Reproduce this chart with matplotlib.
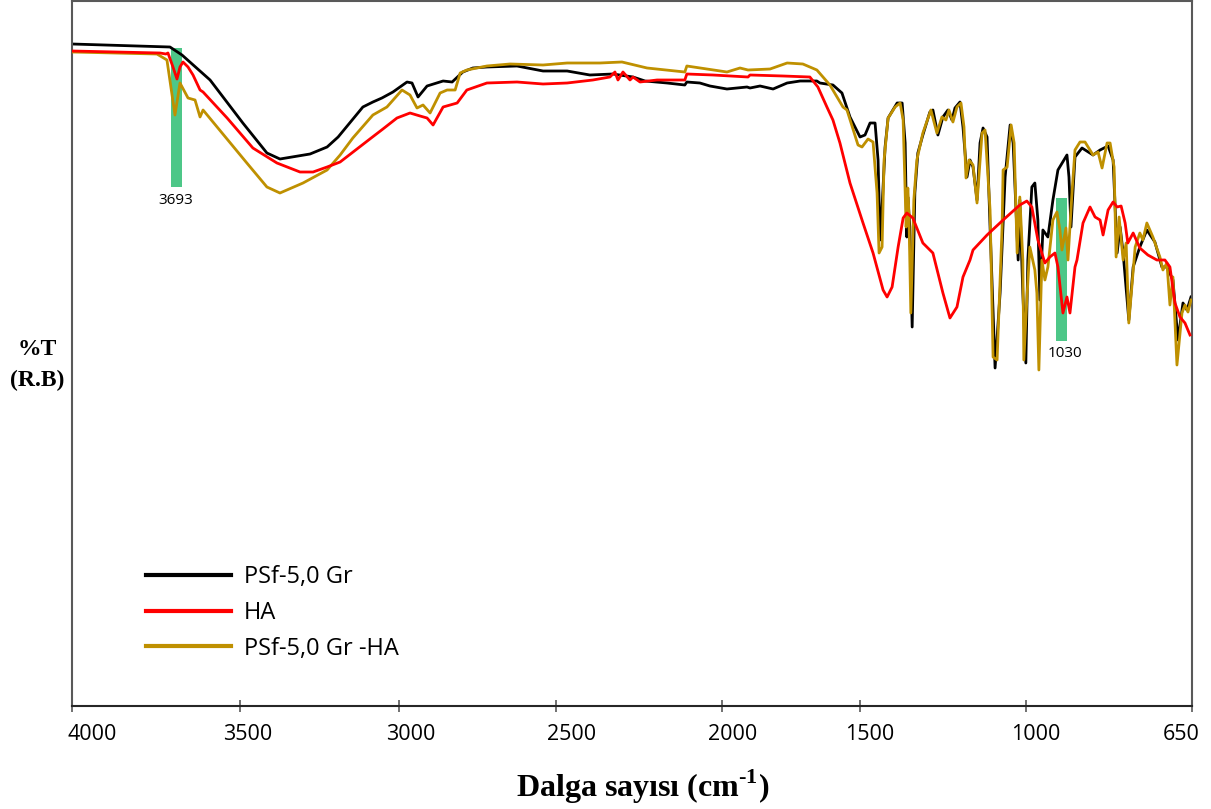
import matplotlib
matplotlib.use("Agg")
import matplotlib.pyplot as plt

# FTIR spectra (wavenumber in cm-1, %T in relative units)
black_wn = [4000, 3707, 3671, 3587, 3489, 3417, 3378, 3288, 3237, 3204, 3130, 3100, 3073, 3040,
            2998, 2983, 2965, 2938, 2890, 2863, 2831, 2801, 2759, 2669, 2591, 2519, 2451, 2382,
            2322, 2286, 2220, 2167, 2161, 2122, 2092, 2041, 1981, 1972, 1942, 1903, 1861, 1822,
            1772, 1763, 1724, 1697, 1673, 1643, 1628, 1613, 1598, 1589, 1583, 1577, 1568, 1559,
            1532, 1517, 1508, 1503, 1500, 1494, 1487, 1479, 1470, 1455, 1434, 1425, 1410, 1395,
            1380, 1368, 1359, 1344, 1335, 1323, 1314, 1305, 1293, 1284, 1275, 1263, 1254, 1239,
            1224, 1209, 1194, 1185, 1170, 1165, 1156, 1147, 1141, 1129, 1120, 1111, 1105, 1096,
            1081, 1066, 1051, 1024, 1018, 1012, 1000, 979, 946, 925, 901, 886, 874, 865, 856,
            839, 826, 806, 785, 761, 740, 725, 707, 692, 677, 665, 653]
black_t = [66.2, 65.9, 65.1, 62.6, 58.3, 55.3, 54.7, 55.2, 55.9, 56.9, 59.9, 60.4, 60.8, 61.4,
           62.4, 62.3, 60.9, 62.0, 62.5, 62.4, 63.4, 63.8, 63.9, 64.0, 63.5, 63.5, 63.1, 63.2,
           62.9, 62.5, 62.3, 62.1, 62.4, 62.3, 62.0, 61.7, 61.9, 61.8, 62.0, 61.7, 62.3, 62.5,
           62.5, 62.3, 62.1, 61.3, 58.9, 56.9, 57.1, 58.3, 58.3, 54.6, 46.6, 49.9, 55.9, 58.8,
           60.3, 60.3, 56.3, 46.9, 50.9, 47.9, 37.9, 51.3, 55.3, 57.1, 59.4, 59.6, 57.1, 58.9,
           59.6, 58.6, 59.8, 60.4, 57.9, 52.9, 54.6, 53.9, 50.6, 56.3, 57.8, 56.9, 47.9, 33.8,
           41.3, 52.9, 58.1, 56.3, 44.6, 50.6, 41.3, 34.3, 44.6, 51.9, 52.3, 48.6, 40.6, 47.6,
           46.9, 50.6, 53.6, 55.1, 52.9, 47.9, 54.9, 55.8, 55.1, 55.6, 56.0, 54.6, 45.3, 47.9, 45.3,
           38.6, 43.9, 45.9, 47.6, 46.4, 43.9, 43.9, 42.6, 36.6, 40.3, 39.6, 40.9]

ha_wn = [4000, 3737, 3719, 3713, 3698, 3686, 3677, 3668, 3653, 3638, 3617, 3608, 3536, 3459,
         3387, 3318, 3279, 3237, 3198, 3109, 3070, 3028, 2989, 2959, 2938, 2920, 2890, 2848,
         2819, 2759, 2669, 2591, 2519, 2442, 2391, 2376, 2367, 2352, 2331, 2322, 2301, 2250,
         2167, 2161, 2083, 1978, 1972, 1873, 1793, 1769, 1742, 1724, 1703, 1673, 1634, 1604,
         1574, 1562, 1547, 1529, 1514, 1503, 1485, 1455, 1425, 1395, 1374, 1353, 1335, 1314,
         1305, 1263, 1215, 1165, 1144, 1129, 1111, 1090, 1075, 1060, 1051, 1036, 1024, 1015,
         1000, 994, 976, 955, 940, 925, 916, 901, 886, 874, 862, 850, 842, 826, 806, 782, 755,
         731, 716, 701, 686, 671, 656]
ha_t = [65.5, 65.3, 65.2, 65.3, 63.9, 62.7, 63.9, 64.4, 63.9, 63.1, 61.6, 61.4, 58.8, 55.8,
        54.3, 53.4, 53.4, 53.9, 54.4, 56.7, 57.7, 58.8, 59.3, 59.0, 58.8, 58.1, 59.9, 60.3,
        61.6, 62.3, 62.4, 62.2, 62.3, 62.6, 62.9, 63.4, 62.6, 63.4, 62.6, 62.9, 62.4, 62.6,
        62.6, 63.2, 63.1, 62.9, 63.1, 63.0, 62.9, 61.9, 59.9, 58.6, 56.3, 52.3, 48.3, 45.3,
        41.6, 40.9, 41.9, 45.9, 48.8, 49.3, 48.8, 46.3, 45.3, 41.3, 38.8, 39.9, 42.9, 44.6,
        45.6, 47.1, 48.6, 50.1, 50.5, 49.9, 46.6, 44.3, 44.9, 45.3, 43.9, 39.3, 40.9, 39.3,
        43.9, 44.6, 48.3, 49.9, 48.9, 48.6, 47.1, 49.6, 50.4, 49.9, 50.0, 48.3, 46.3, 47.3,
        45.8, 45.1, 44.6, 44.6, 43.9, 40.3, 38.9, 38.3, 37.1]

mix_wn = [4000, 3746, 3716, 3692, 3677, 3653, 3632, 3617, 3608, 3566, 3477, 3417, 3378, 3309,
          3237, 3198, 3160, 3100, 3058, 3013, 2989, 2968, 2950, 2929, 2899, 2878, 2854, 2839,
          2819, 2759, 2690, 2591, 2519, 2421, 2355, 2280, 2167, 2161, 2101, 2041, 2002, 1978,
          1912, 1861, 1814, 1772, 1733, 1694, 1682, 1649, 1637, 1619, 1604, 1592, 1586, 1577,
          1571, 1559, 1538, 1523, 1514, 1505, 1500, 1497, 1491, 1482, 1473, 1455, 1431, 1413,
          1398, 1386, 1377, 1365, 1353, 1341, 1332, 1326, 1317, 1305, 1293, 1278, 1269, 1254,
          1245, 1233, 1218, 1215, 1203, 1191, 1182, 1173, 1165, 1156, 1153, 1144, 1135, 1120,
          1114, 1108, 1099, 1090, 1081, 1066, 1054, 1045, 1039, 1027, 1021, 1009, 1000, 985,
          970, 946, 931, 919, 904, 895, 883, 877, 868, 856, 847, 839, 820, 806, 797, 785, 767,
          746, 737, 725, 716, 707, 695, 680, 671, 662, 653]
mix_t = [65.4, 65.2, 64.6, 59.1, 62.3, 60.8, 60.6, 58.9, 59.6, 57.9, 54.3, 51.9, 51.3, 52.3,
         53.6, 55.1, 56.8, 59.1, 59.9, 61.6, 61.1, 59.8, 60.1, 59.3, 61.3, 61.6, 61.6, 63.3,
         63.6, 64.0, 64.2, 64.1, 64.3, 64.3, 64.4, 63.8, 63.4, 64.0, 63.7, 63.4, 63.8, 63.6,
         63.7, 64.3, 64.2, 63.6, 62.1, 59.9, 59.6, 56.1, 55.9, 56.7, 56.4, 51.3, 45.3, 45.9,
         54.6, 58.8, 59.9, 60.3, 58.6, 47.9, 51.8, 49.6, 39.3, 50.6, 54.6, 57.3, 59.6, 57.3,
         58.9, 58.6, 59.6, 58.4, 59.9, 60.3, 57.9, 52.8, 54.6, 54.1, 50.3, 57.3, 57.6, 49.6,
         34.9, 34.6, 47.9, 53.6, 53.9, 58.1, 56.3, 45.3, 50.9, 44.6, 34.6, 40.6, 45.9, 43.6,
         41.3, 33.6, 44.6, 42.6, 43.9, 48.6, 49.4, 47.6, 45.6, 47.8, 44.6, 51.3, 55.6, 56.4,
         56.4, 55.1, 55.4, 53.8, 56.3, 56.3, 53.9, 44.9, 48.9, 44.6, 46.3, 38.3, 45.9, 47.3,
         46.6, 48.3, 46.9, 44.9, 43.6, 44.3, 40.1, 42.9, 34.1, 39.3, 40.1, 39.4, 40.6]

# marked bands: centre, lower/upper edge of the green bar, label
band_centers = [3687, 1040]
band_low = [51.9, 36.5]
band_high = [65.8, 50.8]
band_labels = ["3693", "1030"]
band_label_pos = [(3689, 50.6), (1030, 35.3)]

# the x tick marks and their hand-placed labels do not sit at the true values
tick_marks = [4000, 3498, 3022, 2552, 2056, 1643, 1147, 650]
tick_label_pos = [3940, 3475, 2986, 2507, 2023, 1613, 1117, 683]
tick_labels = ["4000", "3500", "3000", "2500", "2000", "1500", "1000", "650"]

plt.rcParams["mathtext.fontset"] = "custom"
plt.rcParams["mathtext.rm"] = "Liberation Serif:bold"
plt.rcParams["mathtext.bf"] = "Liberation Serif:bold"

fig = plt.figure(figsize=(12.11, 8.09), dpi=100)
ax = fig.add_axes([72 / 1211, 1 - 706 / 809, 1120 / 1211, 705 / 809])

green = "#4DC788"
for c, lo, hi in zip(band_centers, band_low, band_high):
    ax.bar(c, hi - lo, bottom=lo, width=33, color=green, zorder=1)
for lab, (x, y) in zip(band_labels, band_label_pos):
    ax.text(x, y, lab, ha="center", va="center", fontsize=11, family="Open Sans", zorder=5)

l1, = ax.plot(black_wn, black_t, color="black", lw=2.0, zorder=2, label="PSf-5,0 Gr")
l3, = ax.plot(mix_wn, mix_t, color="#BF9000", lw=2.0, zorder=3, label="PSf-5,0 Gr -HA")
l2, = ax.plot(ha_wn, ha_t, color="#FF0000", lw=2.0, zorder=4, label="HA")

ax.set_xlim(4000, 650)
ax.set_ylim(0, 70.5)
ax.set_yticks([])

ax.set_xticks(tick_label_pos, tick_labels, fontsize=15.5, family="Open Sans")
ax.tick_params(axis="x", which="major", length=0, pad=13)
ax.set_xticks(tick_marks, minor=True)
ax.tick_params(axis="x", which="minor", direction="inout", length=8, width=1.2, color="#595959")

for side, sp in ax.spines.items():
    sp.set_color("#595959")
    sp.set_linewidth(1.5)
ax.spines["bottom"].set_color("#262626")

leg = ax.legend(handles=[l1, l2, l3], loc="upper left", bbox_to_anchor=(0.066, 0.2),
                frameon=False, prop={"family": "Open Sans", "size": 17},
                handlelength=3.6, handletextpad=0.55, labelspacing=0.5,
                borderpad=0, borderaxespad=0)
for h in leg.get_lines():
    h.set_linewidth(3)

fig.text(643 / 1211, 1 - 787 / 809, r"Dalga sayısı (cm$^{\text{-1}}$)", ha="center",
         va="center", fontsize=23, family="Liberation Serif", fontweight="bold")
fig.text(37 / 1211, 1 - 365 / 809, "%T\n(R.B)", ha="center", va="center", fontsize=17,
         family="Liberation Serif", fontweight="bold", linespacing=1.6)

fig.savefig("out.png", dpi=100)
